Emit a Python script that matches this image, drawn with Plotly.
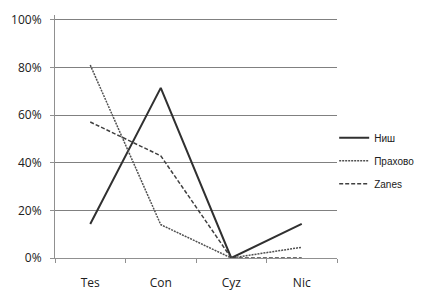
import plotly.graph_objects as go

categories = ["Tes", "Con", "Cyz", "Nic"]
nis = [0.143, 0.714, 0.0, 0.143]
prahovo = [0.81, 0.14, 0.0, 0.045]
zanes = [0.571, 0.429, 0.0, 0.0]
y_ticks = [0, 0.2, 0.4, 0.6, 0.8, 1.0]
y_tick_labels = ["0%", "20%", "40%", "60%", "80%", "100%"]

fig = go.Figure()
fig.add_trace(go.Scatter(x=categories, y=nis, name="Ниш", mode="lines", legendgroup="a",
                         line=dict(color="#303030", width=2, dash="solid")))
fig.add_trace(go.Scatter(x=categories, y=prahovo, name="Прахово", mode="lines", legendgroup="b",
                         line=dict(color="#505050", width=1.5, dash="2px,1px")))
fig.add_trace(go.Scatter(x=categories, y=zanes, name="Zanes", mode="lines", legendgroup="c",
                         line=dict(color="#404040", width=1.5, dash="4px,2px")))

fig.update_layout(
    width=441, height=302,
    margin=dict(l=55, r=104, t=11, b=42),
    paper_bgcolor="white", plot_bgcolor="white",
    font=dict(family="Open Sans, Liberation Sans, sans-serif", size=12, color="#202020"),
    legend=dict(x=0.99, y=0.40, xanchor="left", yanchor="middle",
                font=dict(family="Liberation Sans, Arial, sans-serif", size=10),
                itemwidth=30, tracegroupgap=4,
                bgcolor="rgba(0,0,0,0)"),
    xaxis=dict(type="category", showgrid=False, showline=True, linecolor="#909090",
               ticks="outside", tickson="boundaries", ticklen=4, tickcolor="#909090",
               range=[-0.5, 3.5], fixedrange=True, ticklabelstandoff=14),
    yaxis=dict(range=[0, 1.02], tickvals=y_ticks, ticktext=y_tick_labels,
               showgrid=True, gridcolor="#808080", gridwidth=1,
               showline=True, linecolor="#909090", ticks="outside", ticklen=4,
               tickcolor="#909090", zeroline=False, fixedrange=True,
               ticklabelstandoff=6),
)
fig.write_html("out.html", post_script="document.body.style.margin='0';",
               config={"displayModeBar": False})
